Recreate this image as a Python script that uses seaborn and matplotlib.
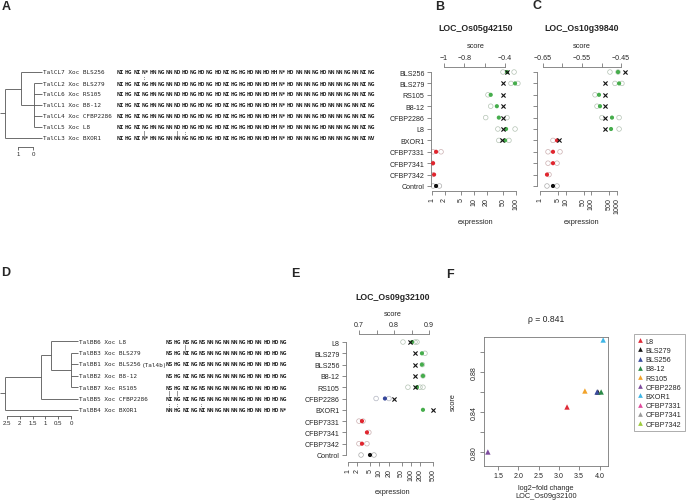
import numpy as np
import pandas as pd
import seaborn as sns
import matplotlib.pyplot as plt
from matplotlib.lines import Line2D
from matplotlib.ticker import NullLocator
import matplotlib.colors as mcolors

sns.set_theme(style='white')
plt.rcParams['font.family'] = ['Liberation Sans', 'DejaVu Sans']
plt.rcParams['axes.linewidth'] = 0.6

W, H = 688, 502
MONO = 'DejaVu Sans Mono'
AX_COL = '#777777'
GREEN, RED, BLUE, BLACK = '#46ad4c', '#e0262f', '#36479b', '#111111'

# ---------------- panel A data: tree + RVDs ----------------
tips_A = ['TalCL7 Xoc BLS256', 'TalCL2 Xoc BLS279', 'TalCL6 Xoc RS105', 'TalCL1 Xoc B8-12',
          'TalCL4 Xoc CFBP2286', 'TalCL5 Xoc L8', 'TalCL3 Xoc BXOR1']
parent_A = {'root': None, 'n1': 'root', 'n2': 'n1',
            tips_A[0]: 'n1', tips_A[1]: 'n2', tips_A[2]: 'n2', tips_A[3]: 'n2',
            tips_A[4]: 'n2', tips_A[5]: 'n2', tips_A[6]: 'root'}
depth_A = {'root': 1.87, 'n1': 0.8, 'n2': -0.07}
tipdepth_A = -0.6
rvd_A = [
    'NI HG NI N* HN NG NN ND HD NG HD NG HD NI HG HG HD NN HD HH N* HD NN NN NG HD NN NN NG NN NI NG',
    'NI HG NI NG HN NG NN ND HD NG HD NG HD NI HG HG HD NN HD HH N* HD NN NN NG HD NN NN NG NN NI NG',
    'NI HG NI NG HN NG NN ND HD NG HD NG HD NI HG HG HD NN HD HH N* HD NN NN NG HD NN NN NG NN NI NG',
    'NI HG NI NG HN NG NN ND HD NG HD NG HD NI HG HG HD NN HD HH N* HD NN NN NG HD NN NN NG NN NI NG',
    'NI HG NI NG HN NG NN ND HD NG HD NG HD NI HG HG HD NN HD HH N* HD NN NN NG HD NN NN NG NN NI NG',
    'NI HG NI NG HN NG NN ND HD NG HD NG HD NI HG HG HD NN HD HH N* HD NN NN NG HD NN NN NG NN NI NG',
    'NI HG NI N* HN NG NN NN NG NG HD NG HD NI HG HG HD NN HD HH N* HD NN NN NG HD NN NN NG NN NI NV',
]
marks_A = [(0, 3, ':'), (5, 3, '|'), (5, 7, '|'), (5, 8, ':')]

# ---------------- panel D data ----------------
tips_D = ['TalBB6 Xoc L8', 'TalBB3 Xoc BLS279', 'TalBB1 Xoc BLS256', 'TalBB2 Xoc B8-12',
          'TalBB7 Xoc RS105', 'TalBB5 Xoc CFBP2286', 'TalBB4 Xoc BXOR1']
parent_D = {'root': None, 'm1': 'root', 'm2': 'm1', 'm3': 'm2',
            tips_D[0]: 'm2', tips_D[1]: 'm3', tips_D[2]: 'm3', tips_D[3]: 'm3',
            tips_D[4]: 'm3', tips_D[5]: 'm1', tips_D[6]: 'root'}
depth_D = {'root': 2.58, 'm1': 1.17, 'm2': 0.78, 'm3': 0.0}
tipdepth_D = -0.27
rvd_D = [
    'NS HG NS NG NS NN NG NN NN NG HD NN HD HD NG',
    'NS HG NI NG NS NN NG NN NN NG HD NN HD HD NG',
    'NS HG NI NG NS NN NG NN NN NG HD NN HD HD NG',
    'NS HG NI NG NS NN NG NN NN NG HD NN HD HD NG',
    'NS HG NI NG NS NN NG NN NN NG HD NN HD HD NG',
    'NI NG NI NG NS NN NG NN NN NG HD NN HD HD NG',
    'NN HG NI NG NI NN NG NN NN NG HD NN HD HD N*',
]
marks_D = [(0, 2, '|'), (4, 0, '|'), (4, 1, '|'), (5, 0, ':'), (5, 1, ':'), (5, 4, ':')]

# ---------------- panel B / C data ----------------
cats_BC = ['BLS256', 'BLS279', 'RS105', 'B8-12', 'CFBP2286', 'L8', 'BXOR1',
           'CFBP7331', 'CFBP7341', 'CFBP7342', 'Control']
mean_B = [61, 95, 25, 35, 39, 58, 55, 1.25, 1.06, 1.12, 1.25]
reps_B = [[49, 90], [76, 111], [21.5], [25], [19, 61], [37, 95], [39, 68],
          [1.06, 1.64], [1.0], [1.0], [1.06, 1.5]]
score_B = [-0.38, -0.42, -0.42, -0.42, -0.42, -0.42, -0.43, np.nan, np.nan, np.nan, np.nan]
col_B = [GREEN] * 7 + [RED] * 3 + [BLACK]

mean_C = [1085, 1194, 197, 216, 632, 580, 4.6, 3.2, 3.2, 1.87, 3.2]
reps_C = [[527, 1085], [826, 1540], [138], [165], [257, 1194], [1194], [3.2],
          [2.05, 6.0], [2.05, 4.6], [2.24], [1.87, 4.6]]
score_C = [-0.44, -0.49, -0.49, -0.49, -0.49, -0.49, -0.61, np.nan, np.nan, np.nan, np.nan]
col_C = [GREEN] * 6 + [RED] * 4 + [BLACK]

# ---------------- panel E / F data ----------------
cats_E = ['L8', 'BLS279', 'BLS256', 'B8-12', 'RS105', 'CFBP2286', 'BXOR1',
          'CFBP7331', 'CFBP7341', 'CFBP7342', 'Control']
mean_E = [108, 223, 223, 240, 155, 14.9, 240, 2.78, 4.0, 2.78, 5.0]
reps_E = [[55.7, 134, 155], [278], [230], [240], [80, 193, 240], [7.8, 20], [],
          [2.23, 3.0], [4.6], [2.23, 4.0], [2.6, 6.7]]
score_E = [0.845, 0.86, 0.86, 0.86, 0.861, 0.80, 0.912, np.nan, np.nan, np.nan, np.nan]
col_E = [GREEN] * 5 + [BLUE, GREEN] + [RED] * 3 + [BLACK]

lfc_F = [3.2, 3.96, 3.94, 4.04, 3.64, 1.25, 4.09]
legend_F = ['L8', 'BLS279', 'BLS256', 'B8-12', 'RS105', 'CFBP2286', 'BXOR1',
            'CFBP7331', 'CFBP7341', 'CFBP7342']
colors_F = ['#df2a37', '#1a1a1a', '#3b4c9e', '#2b8a47', '#f2a32a', '#7d4c9e',
            '#3db5e6', '#df4b9c', '#9a9a9a', '#9dcb3c']

fig = plt.figure(figsize=(6.88, 5.02), dpi=100)


def px_ax(l, t, r, b):
    return fig.add_axes([l / W, 1 - b / H, (r - l) / W, (b - t) / H])


def ftext(x, y, s, **kw):
    kw.setdefault('ha', 'center')
    kw.setdefault('va', 'center')
    fig.text(x / W, 1 - y / H, s, **kw)


def light(c, f=0.15):
    rgb = np.array(mcolors.to_rgb(c))
    return tuple(f * rgb + (1 - f) * np.array([0.78, 0.78, 0.78]))


def tree_panel(box, parent, depth, tips, tipdepth, stub, xlim, ticks, offset):
    ax = px_ax(*box)
    ax.set_xlim(xlim)
    ax.set_ylim(len(tips) - 0.5, -0.5)
    y = {t: i for i, t in enumerate(tips)}
    dep = dict(depth)
    for t in tips:
        dep[t] = tipdepth
    children = {}
    for n, p in parent.items():
        if p is not None:
            children.setdefault(p, []).append(n)

    def gety(n):
        if n not in y:
            y[n] = np.mean([gety(c) for c in children[n]])
        return y[n]
    gety('root')
    kw = dict(color='#555555', lw=0.6, clip_on=False, solid_capstyle='butt')
    for n, p in parent.items():
        x0 = stub if p is None else dep[p]
        ax.plot([x0, dep[n]], [y[n], y[n]], **kw)
    for n, ch in children.items():
        ys = [y[c] for c in ch]
        ax.plot([dep[n]] * 2, [min(ys), max(ys)], **kw)
    for t in tips:
        ax.annotate(t, (tipdepth, y[t]), xytext=(1, 0), textcoords='offset pixels',
                    ha='left', va='center', fontsize=4.3, family=MONO,
                    annotation_clip=False)
    for s in ['top', 'right', 'left']:
        ax.spines[s].set_visible(False)
    ax.spines['bottom'].set_bounds(min(ticks), max(ticks))
    ax.spines['bottom'].set_position(('outward', offset))
    ax.spines['bottom'].set_color('#555555')
    ax.set_yticks([])
    ax.set_xticks(ticks)
    ax.set_xticklabels([('%g' % t) for t in ticks])
    ax.tick_params(axis='x', length=2, width=0.6, pad=1, labelsize=4.4,
                   color='#555555', bottom=True)
    ax.patch.set_visible(False)
    return ax


def rvd_panel(box, rows, marks, ntok):
    ax = px_ax(*box)
    ax.set_xlim(0, ntok)
    ax.set_ylim(len(rows) - 0.5, -0.5)
    ax.axis('off')
    for i, r in enumerate(rows):
        for j, tok in enumerate(r.split()):
            ax.text(j, i, tok, ha='left', va='center', fontsize=4.4,
                    family=MONO, fontweight='bold')
    for i, j, ch in marks:
        ax.text(j + 0.4, i + 0.5, ch, ha='center', va='center', fontsize=3.4,
                family=MONO)
    return ax


def dot_panel(box, cats, means, reps, scores, cols, xlim, ylim, xticks,
              slim, sticks, slabels, show_cats):
    ax = px_ax(*box)
    n = len(cats)
    rows = np.arange(n)
    rep_df = pd.DataFrame([(v, i, cols[i]) for i in range(n) for v in reps[i]],
                          columns=['expression', 'row', 'col'])
    mean_df = pd.DataFrame({'expression': means, 'row': rows, 'col': cols})
    ax.set_xscale('log')
    sns.scatterplot(data=rep_df, x='expression', y='row', hue='col',
                    palette={c: light(c) for c in set(cols)}, s=11,
                    legend=False, ax=ax, zorder=2)
    pts = ax.collections[-1]
    pts.set_edgecolors(pts.get_facecolors())
    pts.set_facecolors('none')
    pts.set_linewidth(0.5)
    sns.scatterplot(data=mean_df, x='expression', y='row', hue='col',
                    palette={c: c for c in set(cols)}, s=9, linewidth=0,
                    legend=False, ax=ax, zorder=3)
    ax.set_xlim(xlim)
    ax.set_ylim(ylim)
    ax.set_xlabel('')
    ax.set_ylabel('')
    ax.set_yticks(rows)
    ax.set_yticklabels(cats if show_cats else [''] * n)
    ax.set_xticks(xticks)
    ax.set_xticklabels([('%g' % t) for t in xticks], rotation=90)
    ax.xaxis.set_minor_locator(NullLocator())
    ax.tick_params(axis='y', length=3.2, width=0.6, pad=1.4, labelsize=5.1,
                   color=AX_COL, left=True)
    ax.tick_params(axis='x', length=2.6, width=0.6, pad=1.4, labelsize=5.1,
                   color=AX_COL, bottom=True)
    for s in ['top', 'right']:
        ax.spines[s].set_visible(False)
    ax.spines['left'].set_bounds(0, n - 1)
    ax.spines['bottom'].set_bounds(xticks[0], xticks[-1])
    for s in ['left', 'bottom']:
        ax.spines[s].set_color(AX_COL)

    ax2 = ax.twiny()
    sc_df = pd.DataFrame({'score': scores, 'row': rows}).dropna()
    sns.scatterplot(data=sc_df, x='score', y='row', marker='x', color=BLACK,
                    s=9, linewidth=0.8, ax=ax2, zorder=4)
    ax2.set_xlim(slim)
    ax2.set_ylim(ylim)
    ax2.set_xlabel('')
    ax2.set_xticks(sticks)
    ax2.set_xticklabels(slabels)
    ax2.tick_params(axis='x', length=2.6, width=0.6, pad=1.6, labelsize=5.1,
                    color=AX_COL, top=True)
    for s in ['bottom', 'left', 'right']:
        ax2.spines[s].set_visible(False)
    ax2.spines['top'].set_bounds(sticks[0], sticks[-1])
    ax2.spines['top'].set_color(AX_COL)
    return ax, ax2


# ---------------- panel A ----------------
tree_panel((0, 67.5, 42, 144.5), parent_A, depth_A, tips_A, tipdepth_A, 2.2,
           (2.2, -0.6), [1, 0], 2.5)
rvd_panel((117, 67.5, 117 + 33 * 8.1, 144.5), rvd_A, marks_A, 33)

# ---------------- panel D ----------------
axD = tree_panel((0, 336.25, 78, 416.75), parent_D, depth_D, tips_D, tipdepth_D,
                 2.77, (2.77, -0.27), [2.5, 2, 1.5, 1, 0.5, 0], 0)
axR = rvd_panel((166, 336.25, 166 + 16 * 8.1, 416.75), rvd_D, marks_D, 16)
axR.text(-3.0, 2, '(Tal4b)', ha='left', va='center', fontsize=4.3, family=MONO)

# ---------------- panels B, C, E ----------------
m = '\u2212'
dot_panel((431, 68, 522, 192), cats_BC, mean_B, reps_B, score_B, col_B,
          (0.946, 139), (10.44, -0.44), [1, 2, 5, 10, 20, 50, 100],
          (-1.128, -0.233), [-1, -0.8, -0.6, -0.4],
          [m + '1', m + '0.8', '', m + '0.4'], True)
dot_panel((537, 68, 627, 192), cats_BC, mean_C, reps_C, score_C, col_C,
          (0.764, 2427), (10.44, -0.44), [1, 5, 10, 50, 100, 500, 1000],
          (-0.665, -0.435), [-0.65, -0.6, -0.55, -0.5, -0.45],
          [m + '0.65', '', m + '0.55', '', m + '0.45'], False)
dot_panel((346, 335, 440, 463), cats_E, mean_E, reps_E, score_E, col_E,
          (0.865, 834), (10.62, -0.71), [1, 2, 5, 10, 20, 50, 100, 200, 500],
          (0.663, 0.931), [0.7, 0.75, 0.8, 0.85, 0.9],
          ['0.7', '', '0.8', '', '0.9'], True)

for x, y, t in [(476, 29, 'LOC_Os05g42150'), (582, 29, 'LOC_Os10g39840'),
                (393, 297, 'LOC_Os09g32100')]:
    ftext(x, y, t, fontsize=6.3, fontweight='bold')
for x, y in [(476, 47), (582, 47), (393, 314)]:
    ftext(x, y, 'score', fontsize=5.3)
for x, y in [(476, 223), (582, 223), (393, 493)]:
    ftext(x, y, 'expression', fontsize=5.3)

# ---------------- panel F ----------------
axF = px_ax(484, 338, 608, 467)
df_F = pd.DataFrame({'strain': cats_E[:7], 'lfc': lfc_F, 'score': score_E[:7]})
sns.scatterplot(data=df_F, x='lfc', y='score', hue='strain',
                palette=dict(zip(legend_F, colors_F)), marker='^', s=15,
                linewidth=0, legend=False, ax=axF)
axF.set_xlim(1.155, 4.209)
axF.set_ylim(0.786, 0.915)
axF.set_xlabel('')
axF.set_ylabel('')
axF.set_xticks([1.5, 2.0, 2.5, 3.0, 3.5, 4.0])
axF.set_xticklabels(['1.5', '2.0', '2.5', '3.0', '3.5', '4.0'])
yt = [0.80, 0.82, 0.84, 0.86, 0.88, 0.90]
axF.set_yticks(yt)
axF.set_yticklabels(['0.80', '', '0.84', '', '0.88', ''], rotation=90, va='center')
axF.tick_params(length=2.6, width=0.6, pad=1.6, labelsize=5.1, color=AX_COL,
                left=True, bottom=True)
for s in axF.spines.values():
    s.set_color(AX_COL)
    s.set_linewidth(0.6)
ftext(546, 320, '\u03c1 = 0.841', fontsize=6.2)
ftext(453, 402, 'score', fontsize=5.3, rotation=90)
ftext(546, 489, 'log2\u2212fold change', fontsize=5.3)
ftext(546, 497, 'LOC_Os09g32100', fontsize=5.3)

handles = [Line2D([], [], marker='^', color=c, ls='none', markersize=3.4,
                  markeredgewidth=0) for c in colors_F]
leg = fig.legend(handles, legend_F, loc='upper left',
                 bbox_to_anchor=(634 / W, 1 - 335 / H), fontsize=5.2, frameon=True,
                 fancybox=False, edgecolor='#888888', handlelength=0.7,
                 handletextpad=0.35, labelspacing=0.3, borderpad=0.5,
                 borderaxespad=0)
leg.get_frame().set_linewidth(0.6)

# ---------------- panel letters ----------------
for x, y, t in [(6, 7, 'A'), (440, 7, 'B'), (537, 6, 'C'),
                (6, 273, 'D'), (295, 274, 'E'), (450, 275, 'F')]:
    ftext(x, y, t, fontsize=9, fontweight='bold')

fig.savefig('out.png', dpi=100)
